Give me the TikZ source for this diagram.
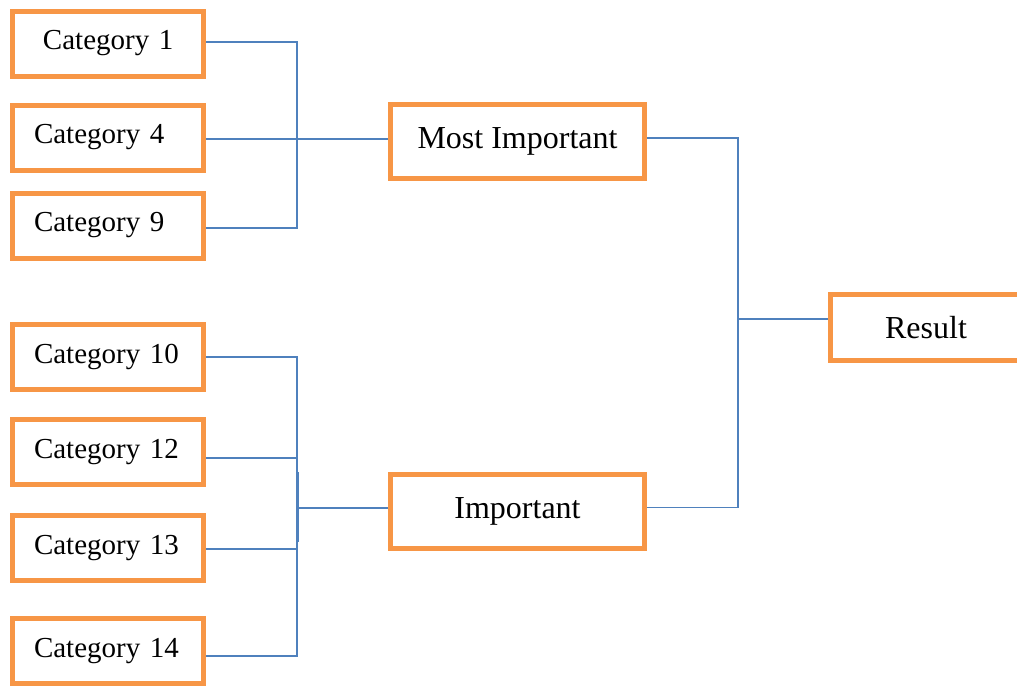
\documentclass[tikz,border=0pt]{standalone}
\usepackage{fontspec}
\setmainfont{Liberation Serif}
\definecolor{boxorange}{HTML}{F79646}
\definecolor{lineblue}{HTML}{4F81BD}
\begin{document}
\begin{tikzpicture}[x=1pt,y=-1pt,
	catbox/.style={draw=boxorange,line width=5pt,text width=148pt,inner xsep=21.5pt,minimum height=65pt,align=left,font=\fontsize{29}{34}\selectfont},
	midbox/.style={draw=boxorange,line width=5pt,minimum width=254pt,minimum height=74pt,font=\fontsize{32}{38}\selectfont},
	link/.style={draw=lineblue,line width=1.5pt}]
	\useasboundingbox (0,0) rectangle (1017,686);
	% first group
	\node[catbox] (cat1) at (108,43.5) {\hspace*{9pt}Category 1};
	\node[catbox] (cat4) at (108,137.5) {Category 4};
	\node[catbox] (cat9) at (108,225.5) {Category 9};
	% second group
	\node[catbox] (cat10) at (108,357) {Category 10};
	\node[catbox] (cat12) at (108,452) {Category 12};
	\node[catbox] (cat13) at (108,548) {Category 13};
	\node[catbox] (cat14) at (108,651) {Category 14};
	% middle and result
	\node[midbox] (most) at (517.5,141.5) {Most Important};
	\node[midbox] (imp) at (517.5,511.5) {Important};
	\node[catbox,align=center,minimum height=66pt,font=\fontsize{32}{38}\selectfont] (res) at (926,327.5) {Result};
	\coordinate (ja) at (297,139);
	\coordinate (jb) at (297,508);
	\coordinate (jc) at (738,319);
	% brackets
	\draw[link] ([yshift=1.5pt]cat1.east) -| (ja) |- ([yshift=-2.5pt]cat9.east);
	\draw[link] ([yshift=-1.5pt]cat4.east) -- ([yshift=2.5pt]most.west);
	\draw[link] (cat10.east) -| (jb) |- ([yshift=-5pt]cat14.east);
	\draw[link] ([yshift=-6pt]cat12.east) -- ([yshift=-6pt]cat12.east -| jb);
	\draw[link] ([yshift=-1pt]cat13.east) -- ([yshift=-1pt]cat13.east -| jb);
	\draw[link,line width=2.5pt] (298,472) -- (298,542);
	\draw[link] (jb) -- (jb -| imp.west);
	\draw[link] ([yshift=3.5pt]most.east) -| (jc) |- ([yshift=4pt]imp.east);
	\draw[link] (jc) -- (jc -| res.west);
\end{tikzpicture}
\end{document}
